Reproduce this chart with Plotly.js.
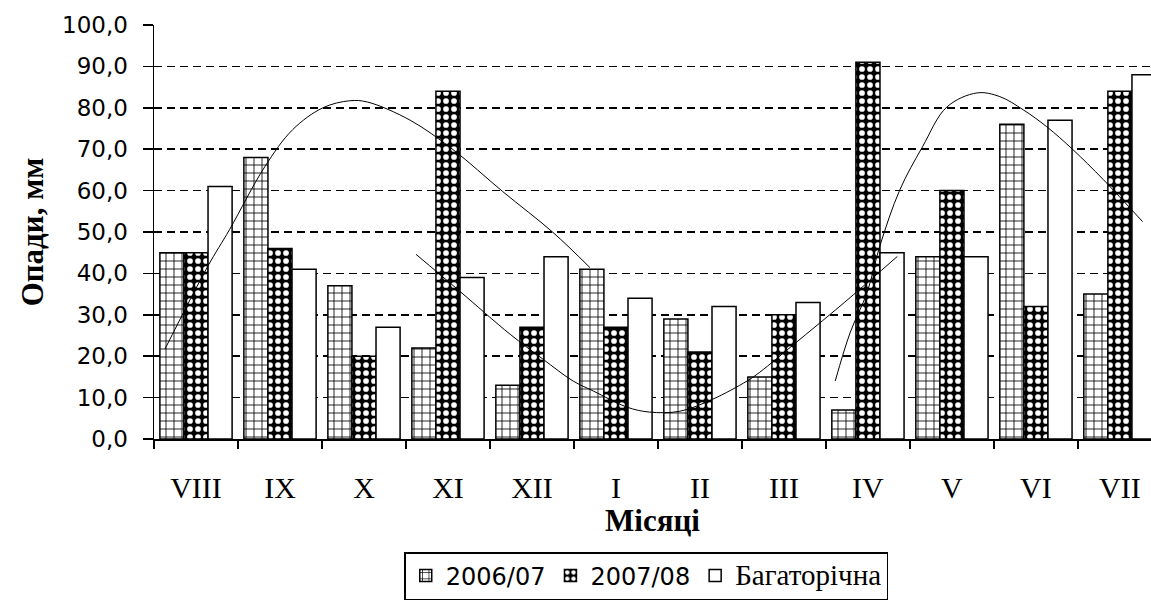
<!DOCTYPE html>
<html><head><meta charset="utf-8">
<script src="https://cdn.plot.ly/plotly-3.0.1.min.js"></script>
<style>html,body{margin:0;padding:0;background:#fff;overflow:hidden}</style>
</head><body><div id="chart" style="width:1151px;height:600px"></div>
<script>
// Categories (months, Aug -> Jul)
const months = ['VIII','IX','X','XI','XII','I','II','III','IV','V','VI','VII'];
const seriesNames = ['2006/07','2007/08','Багаторічна'];
// Precipitation, mm
const precip2006 = [45,68,37,22,13,41,29,15,7,44,76,35];
const precip2007 = [45,46,20,84,27,27,21,30,91,60,32,84];
const precipLongTerm = [61,41,27,39,44,34,32,33,45,44,77,88];
// Smoothed trend curves (x in month-index units, y in mm)
const trend1X = [-0.37,0.14,0.40,0.82,1.15,1.51,1.83,2.04,2.55,3.06,3.65,4.25,4.69];
const trend1Y = [21.7,41.7,50.6,65.8,74.7,80.0,81.7,81.4,77.0,69.9,59.8,49.9,41.4];
const trend2X = [2.62,3.14,3.74,4.13,4.49,4.73,5.13,5.40,5.76,6.15,6.56,6.71,7.15,7.55,7.79,8.35];
const trend2Y = [44.6,35.7,25.3,19.3,14.0,11.6,7.7,6.5,6.7,9.6,14.0,16.1,23.4,30.1,34.2,44.1];
const trend3X = [7.61,7.79,7.99,8.14,8.38,8.65,8.94,9.30,9.57,9.85,10.13,10.44,10.80,11.27];
const trend3Y = [14.0,25.8,35.4,46.5,60.2,70.6,80.2,83.6,82.7,79.5,75.4,69.9,62.7,52.5];
const yTicks = [0,10,20,30,40,50,60,70,80,90,100];

const idx = months.map((m,i)=>i);
const serif = 'Liberation Serif, Times New Roman, serif';
const sans = 'DejaVu Sans, Verdana, sans-serif';

const traces = [
  {type:'bar', name:seriesNames[0], x:idx, y:precip2006,
   marker:{color:'#fff', line:{color:'#000', width:1.5},
           pattern:{shape:'+', fgcolor:'#000', bgcolor:'#fff', size:8, solidity:0.2}}},
  {type:'bar', name:seriesNames[1], x:idx, y:precip2007,
   marker:{color:'#000', line:{color:'#000', width:1.5},
           pattern:{shape:'.', fgcolor:'#fff', bgcolor:'#000', size:8, solidity:0.4}}},
  {type:'bar', name:'<span style="font-family:Liberation Serif;font-size:29px">'+seriesNames[2]+'</span>', x:idx, y:precipLongTerm,
   marker:{color:'#fff', line:{color:'#000', width:1.5}}},
  {type:'scatter', mode:'lines', x:trend1X, y:trend1Y, showlegend:false, hoverinfo:'skip',
   line:{color:'#000', width:1, shape:'spline'}},
  {type:'scatter', mode:'lines', x:trend2X, y:trend2Y, showlegend:false, hoverinfo:'skip',
   line:{color:'#000', width:1, shape:'spline'}},
  {type:'scatter', mode:'lines', x:trend3X, y:trend3Y, showlegend:false, hoverinfo:'skip',
   line:{color:'#000', width:1, shape:'spline'}}
];

const layout = {
  width:1151, height:600,
  margin:{l:154, r:0, t:25, b:160},
  paper_bgcolor:'#fff', plot_bgcolor:'#fff',
  barmode:'group', bargap:0.14, bargroupgap:0,
  showlegend:true,
  legend:{orientation:'h', x:0.251, y:-0.272, xanchor:'left', yanchor:'top',
          bordercolor:'#000', borderwidth:1.5, font:{family:sans, size:24, color:'#000'},
          itemwidth:30, tracegroupgap:0},
  xaxis:{range:[-0.5, 11.37], tickmode:'array', tickvals:idx, ticktext:months,
         ticks:'', showgrid:false, zeroline:false,
         showline:true, linecolor:'#000', linewidth:1.5,
         tickfont:{family:serif, size:30, color:'#000'}, ticklabelstandoff:21,
         minor:{tickmode:'linear', tick0:-0.5, dtick:1, ticks:'outside', ticklen:8, tickcolor:'#000', tickwidth:1.5, showgrid:false},
         title:{text:'<b>Місяці</b>', font:{family:serif, size:31, color:'#000'}, standoff:0}},
  yaxis:{range:[0,100], tickmode:'array', tickvals:yTicks,
         ticktext:yTicks.map(v=>v.toFixed(1).replace('.',',')),
         ticks:'outside', ticklen:10, tickcolor:'#000', tickwidth:1.5,
         showline:true, linecolor:'#000', linewidth:1.5, zeroline:false,
         showgrid:true, gridcolor:'#000', gridwidth:1.5, griddash:'8px,5px',
         tickfont:{family:sans, size:23, color:'#000'}, ticklabelstandoff:10,
         title:{text:'<b>Опади, мм</b>', font:{family:serif, size:31, color:'#000'}, standoff:9}}
};

Plotly.newPlot('chart', traces, layout, {displayModeBar:false, staticPlot:true});
</script></body></html>
